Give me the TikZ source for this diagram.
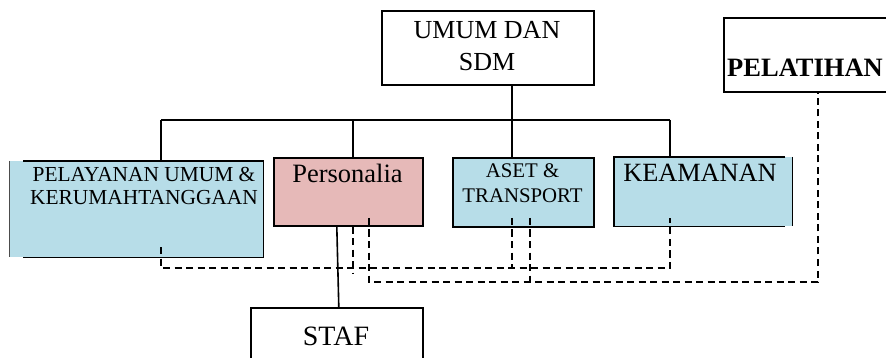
\documentclass[tikz,border=0pt]{standalone}
\usepackage{fontspec}
\setmainfont{Liberation Serif}
\definecolor{lblue}{HTML}{B7DDE8}
\definecolor{lpink}{HTML}{E6B9B8}
\begin{document}
\begin{tikzpicture}[x=1pt,y=-1pt]
\tikzset{
  box/.style={draw=black, line width=1.6pt, inner sep=0pt, anchor=north west},
  fillbox/.style={inner sep=0pt, anchor=north west},
  lbl/.style={anchor=base, inner sep=0pt, align=center},
  link/.style={line width=1.6pt},
  dlink/.style={line width=2pt, dash pattern=on 7pt off 4.5pt},
}
\useasboundingbox (0,0) rectangle (886,358);
% boxes
\node[box, minimum width=212pt, minimum height=74pt] (umum) at (381,10) {};
\node[box, minimum width=200pt, minimum height=74pt] (pelat) at (723,17) {};
\node[fillbox, fill=lblue, minimum width=254pt, minimum height=96pt] (pelay) at (9,161) {};
\node[box, fill=lpink, minimum width=149pt, minimum height=68pt] (pers) at (273,157) {};
\node[box, fill=lblue, minimum width=141pt, minimum height=69pt] (aset) at (452,157) {};
\node[fillbox, fill=lblue, minimum width=178pt, minimum height=69pt] (keam) at (614,157) {};
\node[box, minimum width=172pt, minimum height=90pt] (staf) at (250,307) {};
% partial borders
\draw[line width=0.6pt, black!70] (pelay.north west) -- (pelay.south west);
\draw[link] ([xshift=14pt]pelay.north west) -- (pelay.north east) -- (pelay.south east) -- ([xshift=14pt]pelay.south west);
\draw[link] ([xshift=-7pt]keam.north east) -- (keam.north west) -- (keam.south west) -- ([xshift=-7pt]keam.south east);
\draw[link] (keam.north east) -- (keam.south east);
% texts (base anchor = last line's baseline)
\node[lbl, font=\fontsize{26}{32}\selectfont] (tumum) at (487,71) {UMUM DAN\\SDM};
\node[anchor=base west, inner sep=0pt, font=\fontsize{26.5}{30}\selectfont\bfseries] (tpelat) at (727,77) {PELATIHAN};
\node[lbl, font=\fontsize{21.4}{22.7}\selectfont] (tpelay) at (144,204.4) {PELAYANAN UMUM \&\\KERUMAHTANGGAAN};
\node[lbl, font=\fontsize{26.5}{30}\selectfont] (tpers) at (347.5,183) {Personalia};
\node[lbl, font=\fontsize{20.8}{25}\selectfont] (taset) at (522.5,203) {ASET \&\\TRANSPORT};
\node[lbl, font=\fontsize{26.3}{30}\selectfont] (tkeam) at (700,182) {KEAMANAN};
\node[lbl, font=\fontsize{28}{30}\selectfont] (tstaf) at (336,345) {STAF};
% junction coordinates
\coordinate (busL) at (161,120);
\coordinate (busR) at (670,120);
\coordinate (busM) at (512,120);
\coordinate (busP) at (353,120);
% solid connectors
\draw[link] (umum.south -| busM) -- (aset.north -| busM);
\draw[link] (busL) -- (busR);
\draw[link] (busL) -- (pelay.north -| busL);
\draw[link] (busP) -- (pers.north -| busP);
\draw[link] (busR) -- (keam.north -| busR);
\draw[link] ([xshift=-11.5pt]pers.south) -- ([xshift=2pt]staf.north);
% dashed connectors
\coordinate (dA) at (161,247);
\coordinate (dAk) at (670,218);
\coordinate (yA) at (0,268);
\coordinate (dB) at (369,218);
\coordinate (yB) at (0,282);
\coordinate (xB) at (818,0);
\coordinate (dC) at (353,274);
\coordinate (dD) at (512,218);
\coordinate (dE) at (530,218);
\draw[dlink] (dA) -- (dA |- yA) -- (dAk |- yA) -- (dAk);
\draw[dlink] (dB) -- (dB |- yB) -- (xB |- yB) -- (pelat.south -| xB);
\draw[dlink] (pers.south -| dC) -- (dC);
\draw[dlink] (dD) -- (dD |- yA);
\draw[dlink] (dE) -- (dE |- yB);
\end{tikzpicture}
\end{document}
